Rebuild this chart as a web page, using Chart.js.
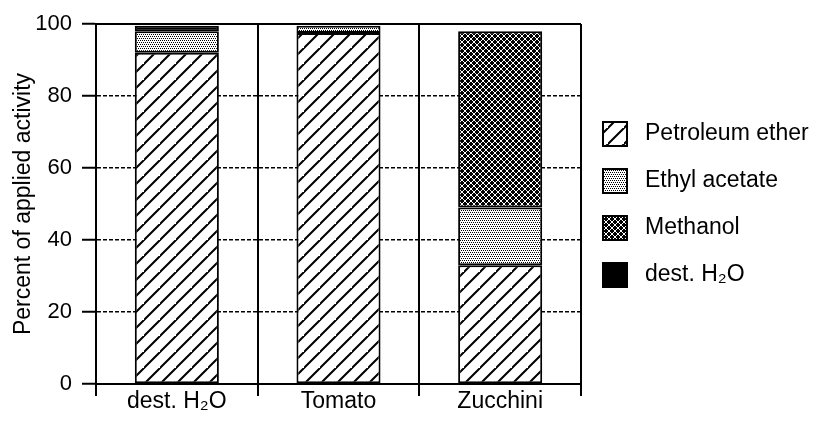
<!DOCTYPE html>
<html lang="en">
<head>
<meta charset="UTF-8" />
<title>Percent of applied activity</title>
<script src="https://cdn.jsdelivr.net/npm/chart.js"></script>
<style>
  html,body{margin:0;padding:0;background:#fff}
  #wrap{width:814px;height:424px;position:relative}
</style>
</head>
<body>
<div id="wrap"><canvas id="myChart"></canvas></div>
<script>
/* ---------- Values ---------- */
const categories     = ['dest. H\u2082O', 'Tomato', 'Zucchini'];
const seriesNames    = ['Petroleum ether', 'Ethyl acetate', 'Methanol', 'dest. H\u2082O'];
const petroleumEther = [92, 97.5, 33];
const ethylAcetate   = [6, 2, 16];
const methanol       = [null, null, 49];
const destWater      = [1.5, null, null];
const yMin = 0, yMax = 100, yStep = 20;

const FONT = '"Liberation Sans", Arial, Helvetica, sans-serif';
Chart.defaults.font.family = FONT;
Chart.defaults.font.size = 21;
Chart.defaults.color = '#000';

const ctx = document.getElementById('myChart').getContext('2d');

/* ---------- Fill patterns (hatch / stipple / crosshatch) ---------- */
function tile(size, draw){
  const c = document.createElement('canvas');
  c.width = c.height = size;
  const g = c.getContext('2d');
  draw(g, size);
  return ctx.createPattern(c, 'repeat');
}
function dots(g, size, bg, fg, cells){
  g.fillStyle = bg; g.fillRect(0, 0, size, size);
  g.fillStyle = fg;
  cells.forEach(([x, y]) => g.fillRect(x, y, 1, 1));
}
const hatch = tile(16, (g, s) => {
  g.fillStyle = '#fff'; g.fillRect(0, 0, s, s);
  g.strokeStyle = '#000'; g.lineWidth = 2;
  g.beginPath();
  g.moveTo(-2, s + 2); g.lineTo(s + 2, -2);
  g.moveTo(-s - 2, s + 2); g.lineTo(2, -2);
  g.moveTo(s - 2, 2 * s + 2); g.lineTo(2 * s + 2, s - 2);
  g.stroke();
});
const stipple = tile(4, (g, s) => dots(g, s, '#fff', '#000', [[0,0],[2,0],[1,2],[3,2]]));
// white pixels on both diagonals of a 6px tile -> diamond crosshatch
const crossCells = [];
for (let i = 0; i < 6; i++){ crossCells.push([i, i]); crossCells.push([i, 5 - i]); }
const cross = tile(6, (g, s) => dots(g, s, '#000', '#fff', crossCells));

/* ---------- Side legend and top frame line ---------- */
const sideLegend = {
  id: 'sideLegend',
  afterDraw(chart){
    const c = chart.ctx, area = chart.chartArea;
    c.save();
    c.font = '23px ' + FONT;
    c.textBaseline = 'middle';
    chart.data.datasets.forEach((ds, i) => {
      const y = 134 + i * 47;
      const x = area.right + 22;
      c.fillStyle = ds.backgroundColor;
      c.fillRect(x, y - 12, 24, 24);
      c.lineWidth = 2; c.strokeStyle = '#000';
      c.strokeRect(x, y - 12, 24, 24);
      c.fillStyle = '#000';
      c.fillText(ds.label, x + 42, y);
    });
    c.restore();
  }
};
const topLine = {
  id: 'topLine',
  afterDatasetsDraw(chart){
    const c = chart.ctx, a = chart.chartArea;
    c.save();
    c.strokeStyle = '#000'; c.lineWidth = 2;
    c.beginPath(); c.moveTo(a.left, a.top); c.lineTo(a.right, a.top); c.stroke();
    c.restore();
  }
};

const barStyle = {borderColor:'#000', borderWidth:2, borderSkipped:false,
                  categoryPercentage:1, barPercentage:0.52};

new Chart(ctx, {
  type: 'bar',
  data: {
    labels: categories,
    datasets: [
      {label: seriesNames[0], data: petroleumEther, backgroundColor: hatch,   ...barStyle},
      {label: seriesNames[1], data: ethylAcetate,   backgroundColor: stipple, ...barStyle},
      {label: seriesNames[2], data: methanol,       backgroundColor: cross,   ...barStyle},
      {label: seriesNames[3], data: destWater,      backgroundColor: '#000',  ...barStyle}
    ]
  },
  options: {
    responsive: true, maintainAspectRatio: false, animation: false,
    layout: {padding: {top: 24, right: 233, bottom: 0, left: 0}},
    plugins: {legend: {display: false}, tooltip: {enabled: false}},
    scales: {
      x: {
        stacked: true,
        afterFit: s => { s.height = 40; },
        grid: {offset: true, color: '#000', lineWidth: 2, tickLength: 12, tickColor: '#000', tickWidth: 2},
        border: {color: '#000', width: 2},
        ticks: {padding: -8, font: {size: 23}}
      },
      y: {
        stacked: true, min: yMin, max: yMax,
        afterFit: s => { s.width = 96; },
        title: {display: true, text: 'Percent of applied activity', font: {size: 23}, padding: {top: 10, bottom: 0}},
        grid: {
          color: c => (c.tick && (c.tick.value === yMin || c.tick.value === yMax)) ? 'rgba(0,0,0,0)' : '#000',
          lineWidth: 1.5, tickLength: 14, tickColor: '#000', tickWidth: 2, tickBorderDash: []
        },
        border: {color: '#000', width: 2, dash: [4, 2]},
        ticks: {stepSize: yStep, padding: 10, font: {size: 22}}
      }
    }
  },
  plugins: [sideLegend, topLine]
});
</script>
</body>
</html>
